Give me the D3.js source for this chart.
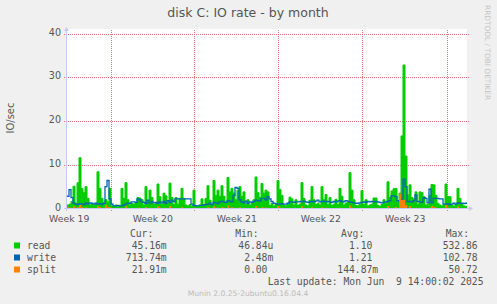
<!DOCTYPE html>
<html><head><meta charset="utf-8">
<script src="https://cdn.jsdelivr.net/npm/d3@7"></script>
<style>
html,body{margin:0;padding:0;background:#F0F0F0;}
svg{display:block;}
text{font-family:"DejaVu Sans",sans-serif;}
.mono{font-family:"DejaVu Sans Mono",monospace;white-space:pre;}
</style></head><body>
<svg id="chart" width="497" height="304"></svg>
<script>
const title = "disk C: IO rate - by month";
const yLabel = "IO/sec";
const yTicks = [0, 10, 20, 30, 40];
const weekLabels = ["Week 19", "Week 20", "Week 21", "Week 22", "Week 23"];
// week boundaries, in sample index units (1 sample = 4 hours)
const weekStarts = [21.85, 63.65, 105.65, 147.65, 189.85];

const read = [
0.8,1.0,1.6,5.1,1.2,5.9,11.6,4.6,3.6,5.0,
2.3,0.8,1.0,0.7,1.2,8.4,4.6,2.3,0.9,2.0,
1.5,4.6,0.6,0.5,0.8,0.4,0.6,4.6,2.3,5.9,
2.0,0.8,1.2,1.0,1.3,2.5,2.4,2.0,0.8,5.0,
1.5,4.2,2.5,0.9,1.2,5.6,2.7,1.0,3.5,2.9,
1.2,5.8,2.5,0.9,2.5,1.0,2.3,4.6,2.3,0.8,
0.6,0.9,0.5,4.2,0.7,0.5,0.8,2.2,0.9,2.3,
5.2,1.9,0.8,6.4,3.0,4.2,2.8,5.2,2.8,1.2,
7.1,3.8,4.6,3.5,2.0,4.2,5.0,2.8,3.8,1.0,
2.0,0.8,1.2,2.0,7.2,3.6,2.5,5.7,3.5,4.2,
3.8,0.7,1.2,0.6,0.9,6.4,4.3,3.0,0.8,0.6,
1.0,2.6,2.2,0.8,2.0,0.7,1.0,5.9,2.3,0.8,
0.6,1.9,5.0,2.0,0.9,1.2,0.8,5.0,2.0,3.2,
0.9,2.5,0.7,1.0,2.1,0.9,4.6,2.8,0.8,1.2,
1.5,8.2,4.2,2.0,0.7,0.6,1.0,4.1,0.9,2.0,
0.6,0.8,1.0,2.4,2.4,0.7,0.5,0.9,2.0,1.2,
6.1,2.5,4.0,4.5,4.6,1.5,3.5,16.6,32.8,12.0,
3.1,5.4,2.5,2.2,3.8,1.0,3.8,3.6,2.7,0.8,
1.0,3.0,5.5,5.4,3.0,1.2,0.8,0.6,0.9,5.6,
2.7,2.7,0.8,0.5,1.0,4.6,2.3,0.9,0.6,0.5];

const write = [
2.8,4.3,2.5,1.2,1.0,0.9,1.1,1.0,0.9,1.2,
1.0,1.3,1.2,1.0,1.2,1.0,1.1,0.9,1.2,5.0,
6.4,2.2,1.0,0.6,0.6,0.7,0.6,0.6,0.8,1.0,
1.2,1.2,1.5,1.5,1.4,2.2,2.0,1.5,1.4,1.2,
1.9,1.3,1.6,1.3,1.4,1.2,1.5,1.3,1.6,1.2,
1.8,1.4,1.9,1.6,2.2,2.2,2.2,2.2,2.2,2.2,
2.2,2.2,1.0,0.7,0.6,0.6,0.7,0.7,0.8,0.9,
1.0,1.2,0.9,1.4,1.3,1.1,1.5,1.7,1.5,1.4,
1.8,1.7,1.5,3.0,4.8,4.6,2.0,1.5,1.3,1.7,
1.2,1.5,1.4,1.6,1.9,1.8,1.7,2.3,2.3,2.0,
2.7,2.2,1.6,1.2,1.1,1.0,1.0,1.1,1.0,1.0,
1.2,1.5,1.5,1.4,1.5,1.5,1.6,1.5,1.7,1.5,
1.4,1.5,1.6,1.5,1.7,1.9,1.5,1.6,1.7,1.5,
1.6,1.5,1.4,1.6,1.5,1.7,1.8,1.6,1.5,1.8,
1.7,1.5,1.4,1.3,1.2,1.2,1.3,1.4,1.5,1.4,
1.6,1.5,1.6,1.5,1.6,1.5,1.4,1.3,1.4,1.5,
1.6,1.8,2.9,2.9,2.7,1.8,1.6,2.0,6.7,5.0,
1.6,1.6,1.5,1.8,3.1,1.6,1.5,1.4,2.5,2.3,
1.3,4.4,1.3,2.3,2.3,2.3,2.2,2.2,1.0,1.0,
1.1,0.9,1.0,1.2,1.0,1.3,1.2,1.2,1.1,1.2];

const split = [
0.3,0.2,0.2,0.5,0.2,0.3,0.8,0.3,0.2,0.3,
0.1,0.1,0.2,0.1,0.1,0.6,0.3,0.1,0.2,0.8,
0.3,0.3,0.1,0.1,0.1,0.1,0.1,0.2,0.1,0.5,
0.1,0.1,0.1,0.1,0.1,0.2,0.2,0.1,0.1,0.3,
0.1,0.2,0.1,0.1,0.1,0.5,0.2,0.1,0.2,0.2,
0.1,0.6,0.2,0.1,0.1,0.1,0.1,0.3,0.1,0.1,
0.1,0.1,0.1,0.2,0.1,0.1,0.1,0.1,0.1,0.1,
0.3,0.1,0.1,0.5,0.2,0.2,0.1,0.3,0.2,0.1,
0.7,0.2,0.3,0.2,0.1,0.2,0.3,0.1,0.2,0.1,
0.1,0.1,0.1,0.1,0.6,0.2,0.1,0.3,0.2,0.2,
0.2,0.1,0.1,0.1,0.1,0.6,0.2,0.2,0.1,0.1,
0.1,0.2,0.1,0.1,0.1,0.1,0.1,0.5,0.1,0.1,
0.1,0.1,0.3,0.1,0.1,0.1,0.1,0.3,0.1,0.2,
0.1,0.1,0.1,0.1,0.1,0.1,0.2,0.1,0.1,0.1,
0.1,0.7,0.2,0.1,0.1,0.1,0.1,0.2,0.1,0.1,
0.1,0.1,0.1,0.1,0.2,0.1,0.1,0.1,0.1,0.1,
0.6,0.1,0.2,0.2,0.3,0.1,3.4,2.0,2.0,0.8,
0.2,0.6,0.1,0.1,0.2,0.1,0.2,0.2,0.1,0.1,
0.1,0.2,0.6,0.3,0.2,0.1,0.1,0.1,0.1,0.8,
0.2,0.2,0.1,0.1,0.1,0.5,0.1,0.1,0.1,0.1];

const seriesNames = ["read", "write", "split"];
const seriesColors = ["#00CC00", "#0066B3", "#FF8000"];
const legendCols = ["Cur:", "Min:", "Avg:", "Max:"];
const legendVals = [
  ["45.16m", "46.84u", "1.10 ", "532.86 "],
  ["713.74m", "2.48m", "1.21 ", "102.78 "],
  ["21.91m", "0.00 ", "144.87m", "50.72 "]
];
const lastUpdate = "Last update: Mon Jun  9 14:00:02 2025";
const footer = "Munin 2.0.25-2ubuntu0.16.04.4";
const watermark = "RRDTOOL / TOBI OETIKER";

const svg = d3.select("#chart");
const x = d3.scaleLinear().domain([0, read.length]).range([67, 467]);
const y = d3.scaleLinear().domain([0, 40]).range([208.5, 33.5]);

// canvas
svg.append("rect").attr("x", 67).attr("y", 29).attr("width", 400).attr("height", 180).attr("fill", "#fff");

// title
svg.append("text").attr("x", 248).attr("y", 17).attr("text-anchor", "middle")
  .attr("font-size", 12.5).attr("fill", "#555").text(title);

// watermark
svg.append("text").attr("transform", "translate(485,5) rotate(90)")
  .attr("font-size", 7.4).attr("fill", "#c4c4c4").text(watermark);

// y label
svg.append("text").attr("transform", "translate(14,118) rotate(-90)")
  .attr("text-anchor", "middle").attr("font-size", 10).attr("fill", "#555").text(yLabel);

// grid horizontal
svg.append("g").selectAll("line").data(yTicks.filter(d => d > 0)).join("line")
  .attr("x1", 64).attr("x2", 469)
  .attr("y1", d => Math.round(y(d)) + 0.5).attr("y2", d => Math.round(y(d)) + 0.5)
  .attr("stroke", "#E87878").attr("stroke-dasharray", "1,1").attr("stroke-width", 1);

// grid vertical
svg.append("g").selectAll("line").data(weekStarts).join("line")
  .attr("x1", d => Math.round(x(d)) + 0.5).attr("x2", d => Math.round(x(d)) + 0.5)
  .attr("y1", 30).attr("y2", 211)
  .attr("stroke", "#E87878").attr("stroke-dasharray", "1,1").attr("stroke-width", 1);

// y axis tick labels
const yAxis = d3.axisLeft(y).tickValues(yTicks).tickSize(0).tickPadding(6).tickFormat(d3.format("d"));
const gy = svg.append("g").attr("transform", "translate(67,0)").call(yAxis);
gy.select(".domain").remove();
gy.selectAll("text").attr("font-family", "DejaVu Sans").attr("font-size", 9.6).attr("fill", "#555").attr("dy", "0.18em");

// x axis labels
const xAxis = d3.axisBottom(x).tickValues(weekStarts.map(d => d - 21)).tickSize(0).tickPadding(6)
  .tickFormat((d, i) => weekLabels[i]);
const gx = svg.append("g").attr("transform", "translate(0,209)").call(xAxis);
gx.select(".domain").remove();
gx.selectAll("text").attr("font-family", "DejaVu Sans").attr("font-size", 9.3).attr("fill", "#555");

// series
const stepData = arr => arr.map((v, i) => [i, v]).concat([[arr.length, arr[arr.length - 1]]]);
const area = d3.area().x(d => x(d[0])).y0(y(0)).y1(d => y(d[1])).curve(d3.curveStepAfter);
const line = d3.line().x(d => x(d[0])).y(d => y(d[1])).curve(d3.curveStepAfter);

svg.append("path").datum(stepData(read)).attr("d", area).attr("fill", seriesColors[0]);
svg.append("path").datum(stepData(read)).attr("d", line).attr("fill", "none").attr("stroke", seriesColors[0]).attr("stroke-width", 1);
svg.append("path").datum(stepData(write)).attr("d", line).attr("fill", "none").attr("stroke", seriesColors[1]).attr("stroke-width", 1.3);
svg.append("path").datum(stepData(split)).attr("d", area).attr("fill", seriesColors[2]);

// axes lines with arrows
const axisColor = "#C8C8F4";
svg.append("line").attr("x1", 66.5).attr("x2", 66.5).attr("y1", 211).attr("y2", 29).attr("stroke", axisColor);
svg.append("path").attr("d", "M64,31 L66.5,27 L69,31 Z").attr("fill", axisColor);
svg.append("line").attr("x1", 64).attr("x2", 470).attr("y1", 208.5).attr("y2", 208.5).attr("stroke", axisColor);
svg.append("path").attr("d", "M469,206 L473,208.5 L469,211 Z").attr("fill", axisColor);

// legend
const fs = 9.7;
const colEdges = [166.7, 273.3, 378.2, 483.5];
const headerEdges = [153.3, 258.5, 364.3, 469];
svg.append("g").selectAll("text").data(legendCols).join("text").attr("class", "mono")
  .attr("x", (d, i) => headerEdges[i]).attr("y", 237).attr("text-anchor", "end")
  .attr("font-size", fs).attr("fill", "#555").text(d => d);
seriesNames.forEach((name, r) => {
  const yy = 249 + r * 12;
  svg.append("rect").attr("x", 14).attr("y", yy - 6.5).attr("width", 6).attr("height", 6).attr("fill", seriesColors[r]);
  svg.append("text").attr("class", "mono").attr("x", 27).attr("y", yy).attr("font-size", fs).attr("fill", "#555").text(name);
  legendVals[r].forEach((v, c) => {
    svg.append("text").attr("class", "mono").attr("x", colEdges[c]).attr("y", yy)
      .attr("text-anchor", "end").attr("font-size", fs).attr("fill", "#555").text(v);
  });
});
svg.append("text").attr("class", "mono").attr("x", 483.5).attr("y", 285).attr("text-anchor", "end")
  .attr("font-size", fs).attr("fill", "#555").text(lastUpdate);
svg.append("text").attr("x", 248).attr("y", 295.5).attr("text-anchor", "middle")
  .attr("font-size", 7.6).attr("fill", "#bbb").text(footer);
</script>
</body></html>
